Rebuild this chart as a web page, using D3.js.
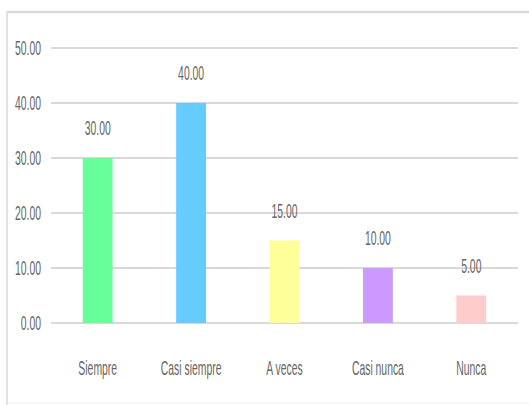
<!DOCTYPE html>
<html><head><meta charset="utf-8">
<script src="https://cdn.jsdelivr.net/npm/d3@7"></script>
<style>body{margin:0;background:#fff}svg{display:block}</style>
</head><body>
<script>
const categories = ["Siempre", "Casi siempre", "A veces", "Casi nunca", "Nunca"];
const values = [30, 40, 15, 10, 5];
const colors = ["#66ff99", "#66ccff", "#ffff99", "#cc99ff", "#ffcccc"];
const yTicks = [0, 10, 20, 30, 40, 50];

const W = 529, H = 405;
const svg = d3.select("body").append("svg").attr("width", W).attr("height", H);

// frame
svg.append("line").attr("x1", 7).attr("x2", W).attr("y1", 12).attr("y2", 12)
  .attr("stroke", "#d9d9d9").attr("stroke-width", 2.5);
svg.append("line").attr("x1", 7).attr("x2", 7).attr("y1", 11).attr("y2", H)
  .attr("stroke", "#d9d9d9").attr("stroke-width", 1.5);
svg.append("line").attr("x1", 7).attr("x2", W).attr("y1", 403).attr("y2", 403)
  .attr("stroke", "#eeeeee").attr("stroke-width", 1);

const x = d3.scaleBand().domain(categories).range([51, 518]).paddingInner(0.68).paddingOuter(0.34);
const y = d3.scaleLinear().domain([0, 50]).range([323, 48]);

const sx = 0.52;
function squeezed(sel, fs) {
  return sel.attr("font-family", "Liberation Sans, Arial, sans-serif")
    .attr("font-size", fs).attr("fill", "#666");
}

// gridlines
svg.append("g").selectAll("line").data(yTicks).join("line")
  .attr("x1", 51).attr("x2", 518)
  .attr("y1", d => y(d)).attr("y2", d => y(d))
  .attr("stroke", "#d9d9d9").attr("stroke-width", 2);

// y tick labels
squeezed(svg.append("g").selectAll("text").data(yTicks).join("text"), 20)
  .attr("text-anchor", "end")
  .attr("transform", d => `translate(41,${y(d) + 7}) scale(${sx},1)`)
  .text(d => d.toFixed(2));

// bars
svg.append("g").selectAll("rect").data(values).join("rect")
  .attr("x", (d, i) => x(categories[i]))
  .attr("width", x.bandwidth())
  .attr("y", d => y(d))
  .attr("height", d => y(0) - y(d))
  .attr("fill", (d, i) => colors[i]);

// value labels
squeezed(svg.append("g").selectAll("text").data(values).join("text"), 20)
  .attr("text-anchor", "middle")
  .attr("transform", (d, i) => `translate(${x(categories[i]) + x.bandwidth() / 2},${y(d) - 23}) scale(${sx},1)`)
  .text(d => d.toFixed(2));

// category labels
squeezed(svg.append("g").selectAll("text").data(categories).join("text"), 20)
  .attr("text-anchor", "middle")
  .attr("transform", d => `translate(${x(d) + x.bandwidth() / 2},375) scale(${sx},1)`)
  .text(d => d);
</script>
</body></html>
